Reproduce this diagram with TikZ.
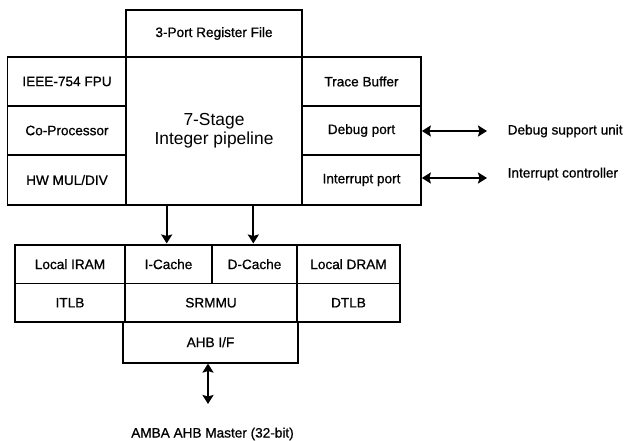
\documentclass[tikz,border=0pt]{standalone}
\usepackage{fontspec}
\setmainfont{Liberation Sans}
\newfontfamily\labelfont[FakeBold=0.8]{Liberation Sans}
\usetikzlibrary{arrows.meta}
\begin{document}
\begin{tikzpicture}[x=1pt,y=-1pt,
  blk/.style={draw,line width=1.7pt,rectangle,inner sep=0pt,
    font=\labelfont\fontsize{13.6}{15}\selectfont},
  bigtext/.style={font=\fontsize{17.4}{21}\selectfont,align=center},
  lbl/.style={font=\labelfont\fontsize{13.6}{15}\selectfont,inner sep=0pt},
  bus/.style={line width=2.2pt,-{Stealth[length=9pt,width=11pt,inset=1.5pt]}},
  bibus/.style={line width=2.2pt,{Stealth[length=9pt,width=11pt,inset=1.5pt]}-{Stealth[length=9pt,width=11pt,inset=1.5pt]}}]
\useasboundingbox (0,0) rectangle (624,441);

% register file on top of the pipeline
\node[blk,minimum width=176pt,minimum height=47pt] (rf) at (214,33.5) {3-Port Register File};

% left column units
\node[blk,minimum width=119pt,minimum height=49pt] (fpu) at (67,81.5) {IEEE-754 FPU};
\node[blk,minimum width=119pt,minimum height=49pt] (cop) at (67,130.5) {Co-Processor};
\node[blk,minimum width=119pt,minimum height=50pt] (mul) at (67,180) {HW MUL/DIV};

% integer pipeline
\node[blk,minimum width=176pt,minimum height=148pt,bigtext] (ip) at (214,131) {7-Stage\\[-2pt]Integer pipeline};

% right column units
\node[blk,minimum width=119pt,minimum height=49pt] (tb) at (361.5,81.5) {Trace Buffer};
\node[blk,minimum width=119pt,minimum height=49pt] (dp) at (361.5,130.5) {Debug port};
\node[blk,minimum width=119pt,minimum height=50pt] (irq) at (361.5,180) {Interrupt port};

% memory subsystem
\node[blk,minimum width=110pt,minimum height=38.5pt] (iram) at (70,264.2) {Local IRAM};
\node[blk,minimum width=87pt,minimum height=38.5pt] (ic) at (168.5,264.2) {I-Cache};
\node[blk,minimum width=85pt,minimum height=38.5pt] (dc) at (254.5,264.2) {D-Cache};
\node[blk,minimum width=103pt,minimum height=38.5pt] (dram) at (348.5,264.2) {Local DRAM};
\node[blk,minimum width=110pt,minimum height=38.5pt] (itlb) at (70,302.7) {ITLB};
\node[blk,minimum width=172pt,minimum height=38.5pt] (mmu) at (211,302.7) {SRMMU};
\node[blk,minimum width=103pt,minimum height=38.5pt] (dtlb) at (348.5,302.7) {DTLB};
\node[blk,minimum width=175pt,minimum height=41pt] (ahb) at (210.5,342.2) {AHB I/F};

% external connections
\node[lbl,anchor=west] (dsu) at (507.5,131) {Debug support unit};
\node[lbl,anchor=west] (ic2) at (507.5,174) {Interrupt controller};
\node[lbl] (amba) at (212.5,434) {AMBA AHB Master (32-bit)};
\coordinate (dsuend) at (487,131);
\coordinate (irqend) at (487,178);
\coordinate (ambaend) at (208,404);

\draw[bibus] (dp.east |- dsuend) -- (dsuend);
\draw[bibus] (irq.east |- irqend) -- (irqend);
\draw[bibus] (ahb.south -| ambaend) -- (ambaend);
\draw[bus] (ip.south -| 166.7,0) -- (166.7,243.5);
\draw[bus] (ip.south -| 253.3,0) -- (253.3,243.5);
\end{tikzpicture}
\end{document}
